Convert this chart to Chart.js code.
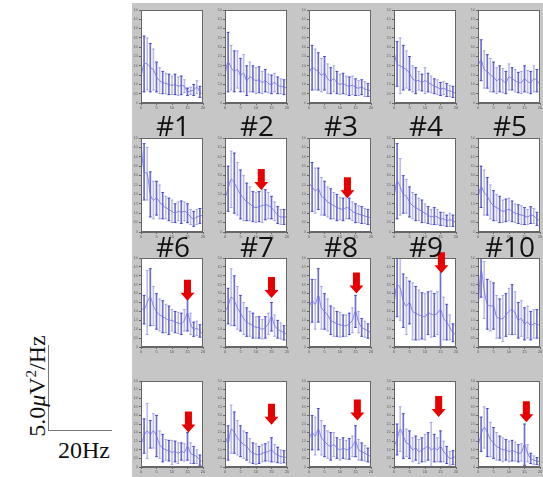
<!DOCTYPE html>
<html>
<head>
<meta charset="utf-8">
<script src="https://cdn.jsdelivr.net/npm/chart.js@4"></script>
<style>
  body { margin: 0; width: 543px; height: 477px; overflow: hidden; background: #fff; position: relative; }
  #bg { position: absolute; left: 132px; top: 3px; width: 411px; height: 474px; background: #c6c6c6; }
  canvas { position: absolute; }
  .lbl { position: absolute; font-family: "Open Sans", sans-serif; font-size: 28px; color: #111; width: 80px; text-align: center; line-height: 28px; }
  .serif { position: absolute; font-family: "Liberation Serif", serif; font-size: 24px; color: #111; white-space: nowrap; }
</style>
</head>
<body>
<div id="bg"></div>
<div id="wrap"></div>
<div style="position:absolute;left:48px;top:345px;width:1px;height:85px;background:#777"></div>
<div style="position:absolute;left:48px;top:430px;width:64px;height:1px;background:#777"></div>
<div class="serif" style="left:37px;top:386px;transform:translate(-50%,-50%) rotate(-90deg)">5.0<i>μ</i>V<sup style="font-size:15px">2</sup>/Hz</div>
<div class="serif" style="left:58px;top:437px">20Hz</div>
<script>
// frequency bins (Hz)
const freq = [0,1,2,3,4,5,6,7,8,9,10,11,12,13,14,15,16,17,18,19,20];

// mean power per panel (#1 .. #20)
const meanPow = [
  [1.4,2.1,2.1,1.9,1.8,1.4,1.2,1.1,1.05,1.0,0.95,1.0,0.9,0.95,0.9,0.6,0.65,0.7,0.85,0.6,0.45],
  [1.5,2.2,1.9,1.7,1.8,1.5,1.6,1.2,1.4,1.3,1.2,1.25,1.1,1.2,1.05,1.0,1.1,0.95,0.9,0.85,0.8],
  [1.6,1.9,1.8,1.7,1.5,1.6,1.3,1.2,1.3,1.1,1.0,1.05,0.95,0.9,0.95,0.85,0.8,0.85,0.75,0.7,0.65],
  [2.8,2.1,2.0,1.9,1.8,1.6,1.3,1.2,1.2,1.1,1.2,1.1,1.0,0.9,0.85,0.75,0.8,0.7,0.65,0.6,0.5],
  [2.0,2.3,1.8,1.7,1.5,1.4,1.2,1.3,1.2,1.1,1.4,1.3,1.2,1.1,1.1,1.3,1.15,1.1,1.3,1.2,1.0],
  [4.8,3.2,3.1,2.0,1.7,1.8,1.6,1.4,1.3,1.2,1.1,1.0,1.1,1.05,1.1,1.0,0.8,0.7,0.8,0.85,0.9],
  [1.8,2.3,2.8,2.6,2.3,2.0,1.8,1.6,1.5,1.35,1.3,1.35,1.4,1.45,1.4,1.3,1.1,0.9,0.8,0.8,0.8],
  [2.6,2.4,2.2,2.3,1.9,1.8,1.6,1.5,1.4,1.3,1.25,1.2,1.3,1.25,1.1,1.0,0.95,0.9,0.85,0.8,0.75],
  [1.8,2.7,2.4,2.0,1.9,1.6,1.4,1.3,1.2,1.1,1.0,0.9,0.8,0.85,0.8,0.7,0.7,0.6,0.65,0.6,0.5],
  [1.8,2.4,2.1,1.9,1.6,1.4,1.3,1.2,1.1,1.15,1.2,1.1,1.0,0.95,0.9,0.85,0.8,0.9,0.85,0.7,0.6],
  [2.2,2.1,2.5,2.8,2.3,2.0,1.8,1.7,1.6,1.5,1.5,1.4,1.35,1.3,1.5,1.9,1.3,1.0,1.05,0.9,0.7],
  [2.0,2.3,2.8,2.6,2.2,1.9,1.6,1.4,1.3,1.2,1.1,1.1,1.0,1.1,1.3,1.7,1.2,1.0,0.9,0.8,0.7],
  [2.2,2.6,2.4,2.9,2.2,2.0,1.8,1.5,1.4,1.3,1.25,1.2,1.2,1.3,1.5,2.0,1.4,1.1,1.0,0.9,0.8],
  [2.4,3.5,3.3,2.6,2.3,2.5,2.0,1.9,1.8,1.75,1.7,1.9,1.85,1.8,1.9,2.1,1.6,1.4,1.1,0.8,0.7],
  [2.0,4.3,3.2,2.4,2.3,2.3,1.7,1.6,1.6,1.8,2.0,2.1,1.9,1.5,1.6,1.3,1.4,1.2,1.3,1.3,1.2],
  [1.3,1.8,2.1,1.9,2.1,1.8,1.3,1.1,1.0,0.95,0.85,0.9,0.8,0.9,0.85,1.2,0.8,0.7,0.6,0.4,0.3],
  [1.8,1.4,2.2,2.0,1.7,1.5,1.3,1.2,0.95,0.8,0.75,0.7,0.8,0.85,0.9,1.0,0.8,0.7,0.6,0.6,0.5],
  [1.6,2.0,1.8,2.2,1.7,1.5,1.3,1.2,1.3,1.1,1.0,1.1,1.0,1.05,1.2,1.5,1.0,0.9,0.8,0.7,0.6],
  [1.2,1.6,2.2,1.8,1.4,1.3,1.0,1.1,0.9,1.0,1.1,1.2,1.0,1.1,1.0,1.2,0.9,0.7,0.5,0.55,0.6],
  [1.2,1.9,2.3,2.0,1.6,1.4,1.2,1.1,1.0,1.0,0.9,0.95,0.9,0.8,0.85,1.3,0.8,0.5,0.4,0.35,0.3]
];

// error (half bar length) per panel
const errPow = [
  [0.8,1.5,1.4,1.3,1.1,0.8,0.7,0.6,0.55,0.55,0.5,0.55,0.5,0.5,0.35,0.2,0.2,0.3,0.35,0.3,0.2],
  [0.6,1.6,1.2,1.1,1.0,0.9,1.0,0.8,0.8,0.7,0.7,0.7,0.6,0.6,0.5,0.5,0.5,0.45,0.4,0.4,0.35],
  [0.7,1.2,1.1,1.0,0.9,0.9,0.8,0.7,0.7,0.6,0.55,0.55,0.5,0.5,0.5,0.45,0.4,0.4,0.4,0.35,0.3],
  [1.9,1.2,1.5,1.2,1.0,0.9,0.7,0.7,0.5,0.45,0.7,0.5,0.45,0.4,0.4,0.35,0.35,0.35,0.3,0.3,0.25],
  [0.7,1.1,1.0,0.9,0.9,0.8,0.7,0.7,0.65,0.6,0.7,0.6,0.6,0.55,0.6,0.7,0.6,0.6,0.7,0.6,0.5],
  [0.3,1.5,1.4,1.2,1.0,0.9,0.9,0.7,0.6,0.6,0.6,0.5,0.5,0.6,0.5,0.5,0.4,0.4,0.4,0.4,0.35],
  [0.8,1.2,1.5,1.6,1.4,1.3,1.2,1.0,0.9,0.8,0.8,0.8,0.9,0.8,0.7,0.6,0.5,0.45,0.4,0.4,0.35],
  [1.1,1.3,1.2,1.1,1.0,0.9,0.8,0.8,0.7,0.7,0.6,0.6,0.6,0.55,0.5,0.5,0.45,0.45,0.4,0.4,0.35],
  [0.5,2.0,1.5,1.0,0.9,0.8,0.7,0.7,0.6,0.6,0.5,0.45,0.4,0.45,0.4,0.35,0.35,0.3,0.35,0.3,0.25],
  [0.6,1.1,1.2,1.0,0.9,0.8,0.7,0.7,0.6,0.6,0.6,0.55,0.5,0.5,0.5,0.45,0.4,0.45,0.4,0.35,0.3],
  [0.6,0.8,1.8,1.6,1.1,1.0,0.9,0.9,0.8,0.8,0.6,0.6,0.6,0.6,0.6,1.0,0.6,0.4,0.4,0.35,0.3],
  [0.8,1.0,1.6,1.4,1.2,1.0,0.9,0.8,0.7,0.7,0.6,0.6,0.55,0.6,0.6,0.8,0.6,0.5,0.45,0.4,0.35],
  [0.9,1.2,1.4,1.5,1.2,1.0,0.9,0.8,0.8,0.7,0.7,0.6,0.6,0.6,0.7,0.9,0.6,0.5,0.45,0.4,0.35],
  [0.8,1.8,1.8,1.5,1.6,1.2,1.6,1.5,1.4,1.3,1.3,1.2,1.3,1.2,1.2,2.4,1.2,1.0,0.7,0.5,0.5],
  [1.0,1.5,1.6,1.4,1.4,1.3,1.2,1.1,1.3,1.2,1.3,1.4,1.2,1.0,1.0,0.9,0.9,0.8,0.8,0.8,0.7],
  [0.6,1.0,1.6,0.8,1.0,1.2,0.8,0.8,0.6,0.6,0.7,0.6,0.6,0.5,0.5,0.8,0.6,0.5,0.4,0.3,0.25],
  [0.8,1.0,1.4,1.2,1.0,0.9,0.8,0.8,0.7,0.6,0.6,0.5,0.5,0.5,0.55,0.7,0.5,0.45,0.4,0.35,0.3],
  [0.8,1.0,1.1,1.2,1.0,0.9,0.8,0.8,0.7,0.6,0.6,0.6,0.55,0.6,0.6,0.9,0.6,0.5,0.45,0.4,0.35],
  [0.6,0.9,1.3,1.3,0.8,0.8,0.7,0.7,0.7,0.7,0.8,0.8,1.6,0.8,0.7,0.9,0.6,0.5,0.4,0.4,0.35],
  [0.7,1.0,1.2,1.4,1.0,0.9,0.8,0.7,0.7,0.6,0.6,0.6,0.55,0.5,0.5,1.2,0.5,0.3,0.25,0.2,0.2]
];

// red arrows: frequency and tip value (null = no arrow)
const arrowFreq = [null,null,null,null,null, null,11.7,12.4,null,null, 15,15,15.3,15.3,null, 15.3,15,15.6,14.4,15.6];
const arrowTip  = [null,null,null,null,null, null,2.23,1.8,null,null, 2.6,2.75,3.0,4.15,null, 2.0,2.45,2.7,2.9,2.6];

const panelLabels = ['#1','#2','#3','#4','#5','#6','#7','#8','#9','#10'];
const yTicks = [0,0.5,1,1.5,2,2.5,3,3.5,4,4.5,5];

// layout
const colLeft = [141, 225, 309, 394, 478];
const colW = 64;
const rowTop = [10, 138, 258, 381];
const rowH = [93, 94, 89, 86];

const darkBar = 'rgba(45,45,190,0.7)';
const lightBar = 'rgba(110,110,225,0.45)';

const panelPlugin = {
  id: 'panel',
  beforeDraw(chart) {
    const a = chart.chartArea, c = chart.ctx;
    c.save();
    c.fillStyle = '#fff';
    c.fillRect(a.left, a.top, a.right - a.left, a.bottom - a.top);
    c.restore();
  },
  afterDraw(chart) {
    const a = chart.chartArea, c = chart.ctx;
    c.save();
    c.strokeStyle = '#666';
    c.lineWidth = 1;
    c.strokeRect(a.left + 0.5, a.top + 0.5, a.right - a.left - 1, a.bottom - a.top - 1);
    const k = chart.options.plugins.panel.idx;
    if (arrowFreq[k] !== null) {
      const x = chart.scales.x.getPixelForValue(arrowFreq[k]);
      const y = chart.scales.y.getPixelForValue(arrowTip[k]);
      c.fillStyle = '#e80000';
      c.beginPath();
      c.moveTo(x - 3.5, y - 21);
      c.lineTo(x + 3.5, y - 21);
      c.lineTo(x + 3.5, y - 8);
      c.lineTo(x + 7, y - 8);
      c.lineTo(x, y);
      c.lineTo(x - 7, y - 8);
      c.lineTo(x - 3.5, y - 8);
      c.closePath();
      c.fill();
    }
    c.restore();
  }
};

const wrap = document.getElementById('wrap');

for (let k = 0; k < 20; k++) {
  const r = Math.floor(k / 5), col = k % 5;
  const cv = document.createElement('canvas');
  const w = 9 + colW + 3, h = 8 + rowH[r] + 7;
  cv.width = w; cv.height = h;
  cv.style.left = (colLeft[col] - 9) + 'px';
  cv.style.top = (rowTop[r] - 8) + 'px';
  wrap.appendChild(cv);

  const m = meanPow[k], e = errPow[k];
  const bars = freq.map((f, i) => ({ x: f, y: [m[i] - e[i], m[i] + e[i]] }));
  const hiCaps = freq.map((f, i) => ({ x: f, y: m[i] + e[i] }));
  const loCaps = freq.map((f, i) => ({ x: f, y: m[i] - e[i] }));
  const line = freq.map((f, i) => ({ x: f, y: m[i] }));
  const shade = freq.map((f, i) => (i % 2 ? darkBar : lightBar));

  new Chart(cv, {
    type: 'bar',
    data: {
      datasets: [
        { type: 'line', data: line, borderColor: 'rgba(110,110,230,0.85)', borderWidth: 1, pointRadius: 0, tension: 0.35, order: 0 },
        { type: 'bar', data: bars, backgroundColor: shade, barThickness: 1, order: 1 },
        { type: 'scatter', data: hiCaps, pointStyle: 'line', pointRadius: 1.5, borderWidth: 1, borderColor: shade, order: 2 },
        { type: 'scatter', data: loCaps, pointStyle: 'line', pointRadius: 1.5, borderWidth: 1, borderColor: shade, order: 2 }
      ]
    },
    options: {
      responsive: false,
      animation: false,
      devicePixelRatio: 1,
      layout: { padding: { left: 1, top: 8, right: 1.6, bottom: 1 } },
      plugins: { legend: { display: false }, tooltip: { enabled: false }, panel: { idx: k } },
      scales: {
        x: {
          type: 'linear', min: 0, max: 20, offset: false,
          ticks: { stepSize: 5, font: { size: 4 }, color: '#555', padding: 0, maxRotation: 0 },
          grid: { drawOnChartArea: false, tickLength: 2, color: '#666', offset: false },
          border: { color: '#666' },
          afterFit: s => { s.height = 6; }
        },
        y: {
          min: 0, max: 5,
          afterBuildTicks: s => { s.ticks = yTicks.map(v => ({ value: v })); },
          ticks: { font: { size: 3 }, color: '#555', padding: 1 },
          grid: { drawOnChartArea: false, tickLength: 2, color: '#666' },
          border: { color: '#666' },
          afterFit: s => { s.width = 8; }
        }
      }
    },
    plugins: [panelPlugin]
  });
}

// panel numbers under rows 1 and 2
const labelY = [111, 232];
panelLabels.forEach((t, i) => {
  const d = document.createElement('div');
  d.className = 'lbl';
  d.textContent = t;
  d.style.left = (colLeft[i % 5] + colW / 2 - 40) + 'px';
  d.style.top = labelY[Math.floor(i / 5)] + 'px';
  document.body.appendChild(d);
});
</script>
</body>
</html>
